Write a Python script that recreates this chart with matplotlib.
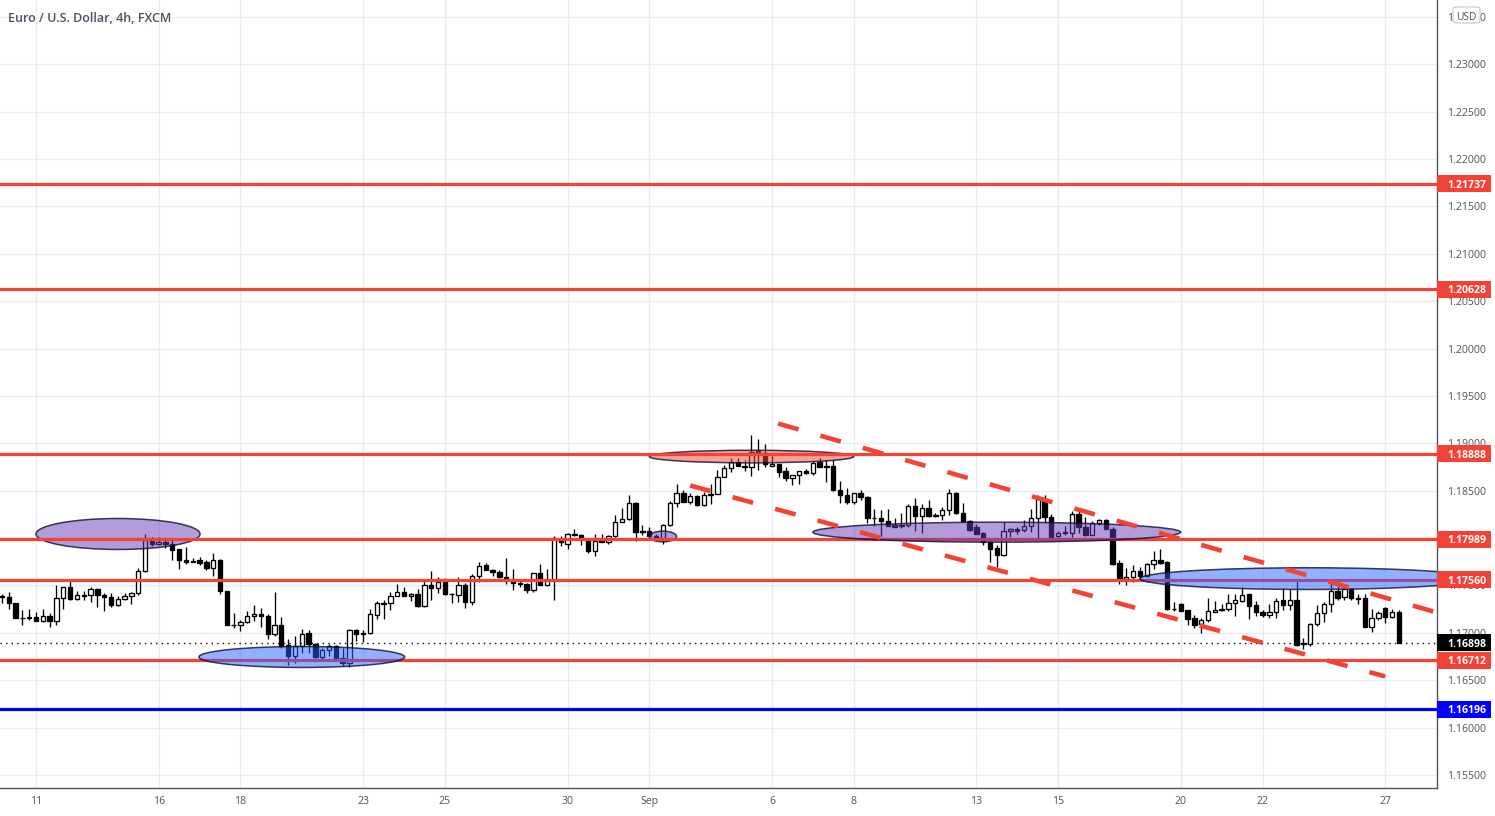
import numpy as np
import matplotlib
matplotlib.use("Agg")
import matplotlib.pyplot as plt
from matplotlib.patches import Ellipse, Rectangle, FancyBboxPatch

plt.rcParams['font.family'] = ['Open Sans', 'Liberation Sans', 'DejaVu Sans']

opens = [
1.17387,1.17380,1.17317,1.17162,1.17169,1.17169,1.17124,1.17180,1.17124,1.17370,
1.17486,1.17359,1.17402,1.17398,1.17468,1.17402,1.17380,1.17292,1.17359,1.17391,
1.17423,1.17655,1.17971,1.17936,1.17961,1.17936,1.17880,1.17771,1.17760,1.17764,
1.17743,1.17683,1.17771,1.17447,1.17085,1.17081,1.17113,1.17176,1.17201,1.17183,
1.16987,1.17085,1.16874,1.16761,1.16860,1.16994,1.16885,1.16744,1.16821,1.16860,
1.16733,1.16684,1.17029,1.16994,
1.16994,1.17190,1.17317,1.17317,1.17387,1.17433,1.17387,1.17412,1.17282,1.17507,
1.17472,1.17542,1.17412,1.17402,1.17507,1.17328,1.17598,1.17711,1.17662,1.17644,
1.17588,1.17542,1.17528,1.17518,1.17451,1.17634,1.17503,1.17563,1.17978,1.17939,
1.18048,1.18034,1.17992,1.17862,1.17985,1.17961,1.18024,1.18172,1.18203,1.18372,
1.18080,1.18077,1.18020,1.18006,1.18137,1.18372,1.18478,1.18386,1.18449,
1.18348,1.18470,1.18467,1.18646,1.18741,1.18805,1.18762,1.18748,1.18917,1.18899,
1.18759,1.18787,1.18703,1.18632,1.18667,1.18710,1.18685,1.18798,1.18759,1.18766,
1.18509,1.18456,1.18379,1.18478,1.18435,1.18217,1.18214,1.18182,1.18137,1.18137,
1.18133,1.18340,1.18231,1.18319,1.18246,1.18242,1.18298,1.18478,1.18267,1.18182,
1.18119,1.18056,1.17957,1.17897,1.17820,1.18073,1.18091,1.18087,1.18129,1.18210,
1.18407,1.18224,1.18020,1.18063,1.18056,1.18259,1.18122,1.18031,1.18158,1.18196,
1.18101,1.17732,1.17570,1.17588,1.17658,1.17598,1.17725,1.17774,1.17746,1.17257,
1.17300,1.17236,1.17152,1.17092,1.17134,1.17219,1.17254,1.17250,1.17317,1.17335,
1.17405,1.17289,1.17222,1.17187,1.17219,1.17342,1.17292,1.17352,1.16892,1.16878,
1.17092,1.17212,1.17300,1.17447,1.17377,1.17461,1.17370,1.17363,1.17060,1.17159,
1.17264,1.17166,1.17222]

closes = [
1.17380,1.17310,1.17159,1.17155,1.17155,1.17124,1.17176,1.17124,1.17370,1.17486,
1.17359,1.17398,1.17394,1.17465,1.17398,1.17377,1.17292,1.17359,1.17387,1.17423,
1.17655,1.17985,1.17943,1.17961,1.17936,1.17873,1.17767,1.17743,1.17746,1.17736,
1.17683,1.17771,1.17440,1.17078,1.17078,1.17113,1.17180,1.17198,1.17176,1.16987,
1.17085,1.16860,1.16761,1.16860,1.16987,1.16878,1.16744,1.16821,1.16860,1.16733,
1.16684,1.17029,1.16987,1.16987,
1.17194,1.17310,1.17303,1.17391,1.17433,1.17387,1.17409,1.17282,1.17507,1.17472,
1.17542,1.17405,1.17405,1.17507,1.17324,1.17598,1.17704,1.17662,1.17641,1.17588,
1.17574,1.17528,1.17514,1.17451,1.17634,1.17503,1.17563,1.18003,1.17957,1.18045,
1.18034,1.17992,1.17862,1.17968,1.17961,1.18020,1.18172,1.18203,1.18372,1.18063,
1.18066,1.18020,1.18006,1.18137,1.18372,1.18478,1.18386,1.18449,1.18348,
1.18456,1.18456,1.18646,1.18741,1.18805,1.18759,1.18748,1.18910,1.18896,1.18784,
1.18784,1.18696,1.18629,1.18664,1.18710,1.18685,1.18794,1.18748,1.18748,1.18506,
1.18453,1.18379,1.18478,1.18432,1.18210,1.18207,1.18179,1.18130,1.18122,1.18130,
1.18337,1.18231,1.18316,1.18231,1.18231,1.18298,1.18478,1.18260,1.18179,1.18084,
1.18045,1.17957,1.17890,1.17820,1.18077,1.18098,1.18077,1.18129,1.18214,1.18414,
1.18224,1.18013,1.18056,1.18052,1.18256,1.18119,1.18028,1.18161,1.18193,1.18091,
1.17722,1.17570,1.17591,1.17658,1.17595,1.17729,1.17771,1.17732,1.17247,1.17247,
1.17229,1.17141,1.17088,1.17134,1.17226,1.17243,1.17240,1.17317,1.17342,1.17402,
1.17282,1.17219,1.17187,1.17222,1.17335,1.17292,1.17349,1.16867,1.16878,1.17092,
1.17212,1.17300,1.17444,1.17370,1.17458,1.17363,1.17356,1.17060,1.17159,1.17205,
1.17166,1.17222,1.16898]

highs = [
1.17405,1.17433,1.17317,1.17240,1.17247,1.17222,1.17257,1.17212,1.17500,1.17486,
1.17546,1.17440,1.17447,1.17482,1.17475,1.17423,1.17423,1.17387,1.17416,1.17430,
1.17686,1.18048,1.18013,1.18013,1.17992,1.17992,1.17880,1.17911,1.17795,1.17802,
1.17764,1.17845,1.17781,1.17447,1.17205,1.17134,1.17229,1.17299,1.17264,1.17194,
1.17433,1.17169,1.16937,1.16965,1.17043,1.17025,1.16888,1.16842,1.16878,1.16871,
1.16835,1.17036,1.17036,1.17029,
1.17247,1.17335,1.17345,1.17433,1.17511,1.17486,1.17423,1.17468,1.17546,1.17658,
1.17591,1.17581,1.17423,1.17591,1.17528,1.17616,1.17746,1.17739,1.17679,1.17662,
1.17792,1.17679,1.17546,1.17528,1.17634,1.17722,1.17669,1.18027,1.18020,1.18056,
1.18101,1.18038,1.18003,1.18038,1.18038,1.18034,1.18249,1.18320,1.18450,1.18383,
1.18133,1.18119,1.18038,1.18154,1.18390,1.18576,1.18506,1.18471,1.18460,
1.18485,1.18566,1.18717,1.18776,1.18847,1.18847,1.18829,1.19093,1.19051,1.18988,
1.18871,1.18787,1.18752,1.18664,1.18710,1.18724,1.18812,1.18847,1.18829,1.18829,
1.18604,1.18530,1.18478,1.18506,1.18442,1.18302,1.18295,1.18302,1.18207,1.18260,
1.18365,1.18418,1.18355,1.18397,1.18267,1.18330,1.18513,1.18485,1.18372,1.18189,
1.18154,1.18063,1.17957,1.17932,1.18172,1.18108,1.18119,1.18196,1.18302,1.18460,
1.18460,1.18259,1.18080,1.18126,1.18284,1.18284,1.18224,1.18179,1.18200,1.18203,
1.18119,1.17774,1.17686,1.17711,1.17697,1.17739,1.17862,1.17890,1.17757,1.17328,
1.17310,1.17243,1.17187,1.17159,1.17363,1.17335,1.17300,1.17405,1.17405,1.17482,
1.17412,1.17335,1.17240,1.17300,1.17370,1.17475,1.17458,1.17546,1.16948,1.17099,
1.17292,1.17328,1.17546,1.17493,1.17493,1.17475,1.17412,1.17412,1.17254,1.17229,
1.17275,1.17257,1.17240]

lows = [
1.17317,1.17247,1.17152,1.17088,1.17134,1.17124,1.17113,1.17060,1.17078,1.17247,
1.17352,1.17352,1.17342,1.17324,1.17271,1.17229,1.17271,1.17282,1.17342,1.17300,
1.17398,1.17644,1.17915,1.17922,1.17894,1.17774,1.17669,1.17729,1.17746,1.17715,
1.17662,1.17598,1.17405,1.17078,1.17053,1.17018,1.17099,1.17124,1.17060,1.16930,
1.16972,1.16842,1.16659,1.16684,1.16790,1.16783,1.16737,1.16726,1.16754,1.16726,
1.16649,1.16642,1.16913,1.16902,
1.16983,1.17148,1.17141,1.17240,1.17387,1.17387,1.17335,1.17275,1.17275,1.17345,
1.17416,1.17398,1.17317,1.17328,1.17261,1.17289,1.17535,1.17662,1.17605,1.17577,
1.17511,1.17451,1.17486,1.17416,1.17433,1.17503,1.17493,1.17345,1.17915,1.17890,
1.18020,1.17932,1.17838,1.17816,1.17957,1.17943,1.18010,1.18168,1.18189,1.17968,
1.18031,1.18013,1.17968,1.17940,1.18126,1.18330,1.18379,1.18365,1.18344,
1.18344,1.18355,1.18463,1.18646,1.18696,1.18759,1.18706,1.18653,1.18717,1.18748,
1.18759,1.18646,1.18601,1.18558,1.18573,1.18678,1.18664,1.18748,1.18590,1.18495,
1.18372,1.18365,1.18355,1.18407,1.18161,1.18126,1.18020,1.18126,1.18119,1.18108,
1.18119,1.18073,1.18056,1.18224,1.18221,1.18186,1.18242,1.18253,1.18168,1.18080,
1.18038,1.17932,1.17746,1.17693,1.17816,1.18010,1.18038,1.18063,1.18063,1.18003,
1.18161,1.18003,1.18003,1.18028,1.18013,1.18056,1.18020,1.18031,1.18140,1.18091,
1.17711,1.17511,1.17503,1.17535,1.17563,1.17591,1.17676,1.17722,1.17240,1.17229,
1.17229,1.17088,1.17053,1.17001,1.17113,1.17219,1.17229,1.17229,1.17176,1.17328,
1.17141,1.17176,1.17166,1.17159,1.17159,1.17240,1.17240,1.16860,1.16832,1.16860,
1.17071,1.17113,1.17219,1.17352,1.17345,1.17352,1.17300,1.17060,1.17008,1.17134,
1.17106,1.17159,1.16892]

date_labels = ["11","16","18","23","25","30","Sep","6","8","13","15","20","22","27"]
date_bars = [5,23,35,53,65,83,95,113,125,143,155,173,185,203]
price_ticks = [1.155,1.16,1.165,1.17,1.175,1.18,1.185,1.19,1.195,1.20,1.205,1.21,1.215,1.22,1.225,1.23,1.235]
red_levels = [1.21737,1.20628,1.18888,1.17989,1.17560,1.16712]
blue_level = 1.16196
last_price = 1.16898

# ellipse: bar-from, bar-to, price-low, price-high
ell_under = [(5.0,29.07,1.1788,1.18207,'purple'),(95.0,99.0,1.17961,1.18073,'purple'),(95.0,125.0,1.18794,1.18927,'red')]
ell_over = [(28.9,59.1,1.16635,1.16856,'blue'),(119.0,173.0,1.17957,1.18168,'purple'),(167.0,216.4,1.17458,1.17687,'blue')]
ell_colors = {'purple':(103/255,58/255,183/255,.5),'blue':(41/255,98/255,1,.5),'red':(244/255,67/255,54/255,.5)}
trend_upper = ([113.9,210.05],[1.19209,1.17226])
trend_lower = ([101.0,203.0],[1.18555,1.16540])

W,H = 1495,816
fig = plt.figure(figsize=(W/100,H/100),dpi=100,facecolor='white')
ax = fig.add_axes([0,(H-788)/H,1437/W,788/H])
ax.set_xlim(-0.284,210.6)
ax.set_ylim(1.153628,1.236786)

GRID='#e3edf3'
ax.set_axisbelow(True)
ax.set_xticks(date_bars); ax.set_xticklabels(date_labels)
ax.set_yticks(price_ticks); ax.set_yticklabels([f"{p:.5f}" for p in price_ticks])
ax.yaxis.tick_right()
ax.grid(True,color=GRID,lw=1.0)
ax.tick_params(axis='both',length=0,labelsize=7.6,labelcolor='#50535e')
ax.tick_params(axis='y',pad=7)
ax.tick_params(axis='x',pad=6)
for s in ('top','left'):
    ax.spines[s].set_visible(False)
for s in ('right','bottom'):
    ax.spines[s].set_color('#50535e'); ax.spines[s].set_linewidth(1.0)

o,c,h,l = map(np.array,(opens,closes,highs,lows))
x = np.arange(len(o))
ax.vlines(x,l,h,color='black',lw=0.95,zorder=3)
up = c>=o
body_h = np.maximum(np.abs(c-o),0.00004)
ax.bar(x[up],body_h[up],bottom=np.minimum(o,c)[up],width=.64,facecolor='white',edgecolor='black',lw=0.95,zorder=3.1)
ax.bar(x[~up],body_h[~up],bottom=np.minimum(o,c)[~up],width=.64,facecolor='black',edgecolor='black',lw=0.95,zorder=3.1)

ax.axhline(last_price,color='black',lw=1.0,ls=(0,(1,3)),zorder=3.5)

def draw_ell(spec,z):
    for b0,b1,p0,p1,col in spec:
        ax.add_patch(Ellipse(((b0+b1)/2,(p0+p1)/2),b1-b0,p1-p0,facecolor=ell_colors[col],
                             edgecolor=(.05,.05,.2,.8),lw=1.1,zorder=z))
draw_ell(ell_under,4)
for lv in red_levels:
    ax.axhline(lv,color='#f44336',lw=2.3,zorder=5)
ax.axhline(blue_level,color='#0000ff',lw=2.3,zorder=5)
draw_ell(ell_over,6)

LW_T = 3.3
for tx,ty in (trend_upper,trend_lower):
    ax.plot(tx,ty,color='#f44336',lw=LW_T,ls=(0,(15.3/LW_T,16.4/LW_T)),dash_capstyle='butt',zorder=7)

ytr = ax.get_yaxis_transform()
bw = 54/1437
bh = 8.5/9476
def tag(p,col):
    ax.add_patch(Rectangle((1.0,p-bh),bw,2*bh,transform=ytr,facecolor=col,edgecolor='none',clip_on=False,zorder=8))
    ax.text(1.0+29.5/1437,p,f"{p:.5f}",transform=ytr,color='white',fontsize=7.6,fontweight='bold',ha='center',va='center_baseline',zorder=9,clip_on=False)
for lv in red_levels:
    tag(lv,'#f44336')
tag(blue_level,'#0000ff')
tag(last_price,'#000000')

fig.text(8/W,1-16.5/H,"Euro / U.S. Dollar, 4h, FXCM",fontsize=9.0,fontweight='semibold',color='#50535e',ha='left',va='center_baseline')
fig.add_artist(FancyBboxPatch((1453/W,1-23/H),27/W,16/H,boxstyle="round,pad=0,rounding_size=0.004",transform=fig.transFigure,
                              facecolor='white',edgecolor='#c5cad4',lw=0.8,mutation_aspect=H/W,zorder=10))
fig.text(1466.5/W,1-15.5/H,"USD",fontsize=7.4,color='#50535e',ha='center',va='center_baseline',zorder=11)

fig.savefig('out.png',dpi=100)
